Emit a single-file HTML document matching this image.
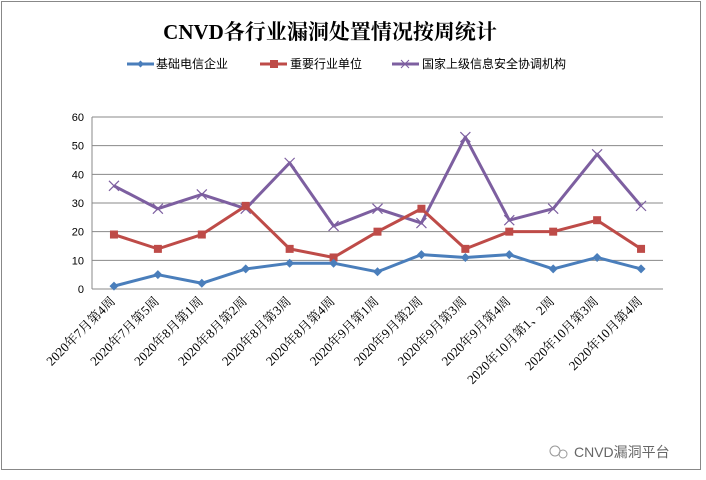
<!DOCTYPE html>
<html><head><meta charset="utf-8">
<style>
body{margin:0;background:#fff;width:706px;height:480px;overflow:hidden}
svg{display:block}
</style></head>
<body>
<svg id="chart" width="706" height="480" xmlns="http://www.w3.org/2000/svg">
<rect x="1.5" y="1.5" width="699" height="468" fill="#fff" stroke="#888" stroke-width="1"/>
<text x="330" y="39" text-anchor="middle" font-family="'Liberation Serif','Noto Serif CJK SC',serif" font-weight="bold" font-size="21">CNVD各行业漏洞处置情况按周统计</text>
<g font-family="'Liberation Sans','Noto Sans CJK SC',sans-serif" font-size="12">
<g><line x1="127" y1="64" x2="154" y2="64" stroke="#4a7ebb" stroke-width="3"/><path d="M140.5 60.5l3.5 3.5-3.5 3.5-3.5-3.5z" fill="#4a7ebb"/><text x="156" y="68">基础电信企业</text></g>
<g><line x1="260" y1="64" x2="287" y2="64" stroke="#be4b48" stroke-width="3"/><rect x="270" y="60" width="8" height="8" fill="#be4b48"/><text x="290" y="68">重要行业单位</text></g>
<g><line x1="392" y1="64" x2="419" y2="64" stroke="#7d5fa0" stroke-width="3"/><path d="M401 60l8 8M409 60l-8 8" stroke="#7d5fa0" stroke-width="1"/><text x="422" y="68">国家上级信息安全协调机构</text></g>
</g>
<g id="grid"></g>
<g id="axes"></g>
<g id="series"></g>
<g>
<circle cx="555" cy="451" r="5" fill="none" stroke="#999"/><circle cx="563" cy="454" r="4" fill="none" stroke="#999"/>
<text x="574" y="457" font-family="'Liberation Sans','Noto Sans CJK SC',sans-serif" font-size="14" fill="#666">CNVD漏洞平台</text>
</g>
</svg>
<script>
const categories=["2020年7月第4周","2020年7月第5周","2020年8月第1周","2020年8月第2周","2020年8月第3周","2020年8月第4周","2020年9月第1周","2020年9月第2周","2020年9月第3周","2020年9月第4周","2020年10月第1、2周","2020年10月第3周","2020年10月第4周"];
const telecom=[1,5,2,7,9,9,6,12,11,12,7,11,7];
const keyIndustry=[19,14,19,29,14,11,20,28,14,20,20,24,14];
const national=[36,28,33,28,44,22,28,23,53,24,28,47,29];
const yTicks=[0,10,20,30,40,50,60];
const NS="http://www.w3.org/2000/svg";
const L=92,R=663,T=117,B=289,yMax=60;
const x=i=>L+(R-L)/categories.length*(i+0.5);
const y=v=>B-(B-T)*v/yMax;
function mk(tag,attrs,parent){const e=document.createElementNS(NS,tag);for(const k in attrs)e.setAttribute(k,attrs[k]);document.getElementById(parent).appendChild(e);return e;}
yTicks.forEach(t=>{
 if(t>0){const g=mk('line',{x1:L,x2:R,y1:y(t),y2:y(t),stroke:'#888','stroke-width':1},'grid');
 
 }
 const tx=mk('text',{x:L-8,y:y(t)+4,'text-anchor':'end','font-family':"'Liberation Sans',sans-serif",'font-size':11},'axes');
 tx.textContent=t;
 
 
});
const ax=mk('line',{x1:L,x2:L,y1:T,y2:B,stroke:'#888'},'axes');


const bx=mk('line',{x1:L,x2:R,y1:B,y2:B,stroke:'#888'},'axes');


categories.forEach((c,i)=>{
 const px=x(i)+2,py=B+13;
 const t=mk('text',{x:px,y:py,'text-anchor':'end',transform:`rotate(-45 ${px} ${py})`,'font-family':"'Liberation Serif','Noto Serif CJK SC',serif",'font-size':13},'axes');
 t.textContent=c;
 
 
});
function series(data,color,marker,name){
 const pl=mk('polyline',{points:data.map((v,i)=>x(i)+','+y(v)).join(' '),fill:'none',stroke:color,'stroke-width':3,'stroke-linejoin':'round'},'series');
 
 
 data.forEach((v,i)=>{
  const cx=x(i),cy=y(v);let m;
  if(marker==='d')m=mk('path',{d:`M${cx} ${cy-4.5}l4.5 4.5-4.5 4.5-4.5-4.5z`,fill:color},'series');
  else if(marker==='s')m=mk('rect',{x:cx-4,y:cy-4,width:8,height:8,fill:color},'series');
  else m=mk('path',{d:`M${cx-5} ${cy-5}l10 10M${cx+5} ${cy-5}l-10 10`,stroke:color,'stroke-width':1.2},'series');
  
  
 });
}
series(national,'#7d5fa0','x','national');
series(keyIndustry,'#be4b48','s','key-industry');
series(telecom,'#4a7ebb','d','telecom');
</script>
</body></html>
